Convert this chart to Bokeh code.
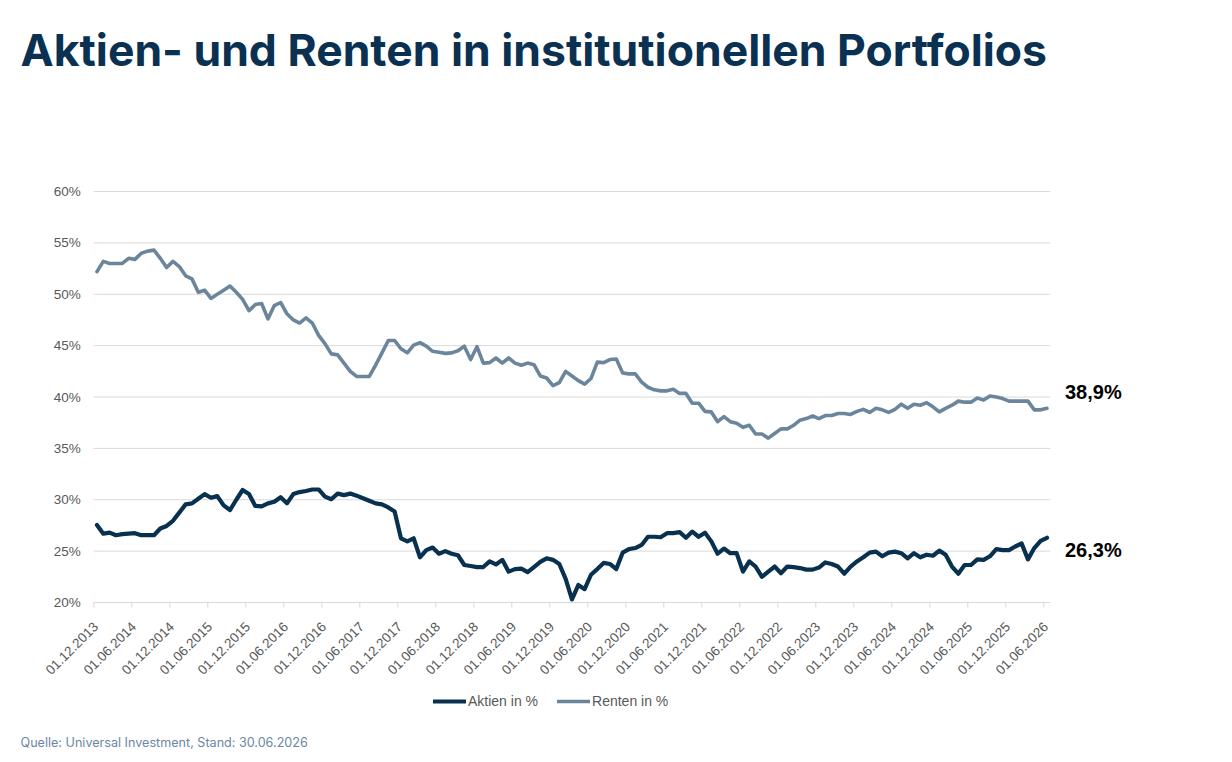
import math
import numpy as np
from bokeh.plotting import figure
from bokeh.models import ColumnDataSource, Label, Legend, LegendItem, Range1d
from bokeh.core.properties import value
from bokeh.embed import file_html
from bokeh.resources import INLINE

title_text = "Aktien- und Renten in institutionellen Portfolios"
source_text = "Quelle: Universal Investment, Stand: 30.06.2026"
series_names = ["Aktien in %", "Renten in %"]

# monthly values, Dec 2013 .. Jun 2026
aktien = [
    27.55, 26.7, 26.8, 26.55, 26.65, 26.7, 26.75, 26.55, 26.55, 26.55, 27.2, 27.45, 27.95, 28.75, 29.55,
    29.65, 30.1, 30.55, 30.2, 30.35, 29.45, 29.0, 30.0, 30.95, 30.55,
    29.4, 29.35, 29.65, 29.8, 30.25, 29.65, 30.55, 30.75, 30.85, 31.0, 31.0, 30.3, 30.05, 30.6, 30.45,
    30.6, 30.4, 30.15, 29.9, 29.65, 29.55, 29.25, 28.85, 26.25, 25.95,
    26.25, 24.4, 25.1, 25.35, 24.75, 25.0, 24.75, 24.6, 23.65, 23.55, 23.45, 23.45, 24.0, 23.7, 24.15,
    23.0, 23.25, 23.3, 22.95, 23.45, 23.95, 24.3, 24.15, 23.75, 22.3,
    20.3, 21.7, 21.3, 22.7, 23.25, 23.85, 23.75, 23.25, 24.85, 25.2, 25.3, 25.6, 26.4, 26.4, 26.35,
    26.75, 26.75, 26.85, 26.3, 26.9, 26.4, 26.8, 25.95, 24.75, 25.25,
    24.8, 24.8, 23.0, 24.0, 23.5, 22.5, 23.0, 23.5, 22.85, 23.5, 23.45, 23.35, 23.2, 23.2, 23.4,
    23.9, 23.75, 23.5, 22.8, 23.5, 24.0, 24.4, 24.85, 24.95, 24.5,
    24.85, 24.95, 24.8, 24.3, 24.8, 24.4, 24.65, 24.55, 25.05, 24.65, 23.5, 22.8, 23.65, 23.65, 24.2,
    24.15, 24.5, 25.2, 25.1, 25.1, 25.45, 25.75, 24.2, 25.3, 26.0, 26.3,
]
renten = [
    52.2, 53.2, 53.0, 53.0, 53.0, 53.5, 53.4, 54.0, 54.2, 54.3, 53.5, 52.6, 53.2, 52.7, 51.8,
    51.5, 50.2, 50.4, 49.6, 50.0, 50.4, 50.8, 50.2, 49.5, 48.4,
    49.0, 49.1, 47.6, 48.9, 49.2, 48.1, 47.5, 47.2, 47.7, 47.2, 46.0, 45.2, 44.2, 44.1, 43.3,
    42.5, 42.0, 42.0, 42.0, 43.1, 44.3, 45.5, 45.5, 44.7, 44.3,
    45.05, 45.3, 44.95, 44.45, 44.35, 44.25, 44.3, 44.5, 44.95, 43.65, 44.9, 43.3, 43.35, 43.8, 43.3,
    43.8, 43.3, 43.1, 43.3, 43.15, 42.05, 41.85, 41.1, 41.4, 42.5,
    42.05, 41.6, 41.25, 41.8, 43.4, 43.35, 43.65, 43.7, 42.35, 42.25, 42.25, 41.45, 40.95, 40.7, 40.6,
    40.6, 40.75, 40.35, 40.35, 39.4, 39.4, 38.6, 38.55, 37.6, 38.1,
    37.6, 37.45, 37.05, 37.25, 36.4, 36.4, 36.0, 36.45, 36.9, 36.9, 37.25, 37.75, 37.9, 38.15, 37.9,
    38.2, 38.2, 38.4, 38.4, 38.3, 38.6, 38.8, 38.5, 38.9, 38.75,
    38.5, 38.8, 39.3, 38.9, 39.3, 39.2, 39.45, 39.05, 38.55, 38.9, 39.2, 39.6, 39.5, 39.5, 39.9,
    39.7, 40.1, 40.0, 39.85, 39.6, 39.6, 39.6, 39.6, 38.75, 38.75, 38.9,
]
tick_labels = [
    "01.12.2013", "01.06.2014", "01.12.2014", "01.06.2015", "01.12.2015", "01.06.2016",
    "01.12.2016", "01.06.2017", "01.12.2017", "01.06.2018", "01.12.2018", "01.06.2019",
    "01.12.2019", "01.06.2020", "01.12.2020", "01.06.2021", "01.12.2021", "01.06.2022",
    "01.12.2022", "01.06.2023", "01.12.2023", "01.06.2024", "01.12.2024", "01.06.2025",
    "01.12.2025", "01.06.2026",
]
y_ticks = [20, 25, 30, 35, 40, 45, 50, 55, 60]
y_tick_labels = ["20%", "25%", "30%", "35%", "40%", "45%", "50%", "55%", "60%"]
months_per_tick = 6

C_AKT = "#08304f"
C_REN = "#6b869c"
C_TITLE = "#0b3152"
C_GRID = "#d9d9d9"
C_TXT = "#595959"
C_SRC = "#6a87a3"

# canvas geometry (pixels)
W, H = 1230, 760
PLOT_LEFT = 93.3          # x of the category axis start
PLOT_BASE = 602.0         # y of the 20 % line
PXM = 38.0 / 6.0          # pixels per month
PXP = 10.274              # pixels per percentage point

n = len(aktien)
x = np.arange(n) + 0.5
src = ColumnDataSource(dict(x=x, aktien=aktien, renten=renten))

y0 = y_ticks[0]
p = figure(width=W, height=H, min_border=0, output_backend="svg", toolbar_location=None,
           x_axis_type=None, y_axis_type=None,
           x_range=Range1d(-PLOT_LEFT / PXM, (W - PLOT_LEFT) / PXM),
           y_range=Range1d(y0 - (H - PLOT_BASE) / PXP, y0 + PLOT_BASE / PXP))
p.outline_line_color = None
p.grid.visible = False
p.background_fill_color = "white"
p.border_fill_color = "white"

# horizontal gridlines (the 20 % line doubles as the category axis line)
p.segment(x0=[0] * len(y_ticks), x1=[n] * len(y_ticks), y0=y_ticks, y1=y_ticks,
          line_color=C_GRID, line_width=1)
# category-axis tick marks every 6 months
tick_pos = [months_per_tick * k for k in range(len(tick_labels))]
p.segment(x0=tick_pos, x1=tick_pos, y0=[y0] * len(tick_pos),
          y1=[y0 - 5 / PXP] * len(tick_pos), line_color=C_GRID, line_width=1)

# y tick labels
p.text(x=[0] * len(y_ticks), y=y_ticks, text=y_tick_labels, x_offset=-13,
       text_align="right", text_baseline="middle", text_font=value("Liberation Sans"),
       text_font_size="13.5px", text_color=C_TXT)
# x tick labels, rotated 45 degrees, ending below each tick
p.text(x=tick_pos, y=[y0] * len(tick_pos), text=tick_labels, angle=math.pi / 4,
       x_offset=2, y_offset=22, text_align="right", text_baseline="middle",
       text_font=value("Liberation Sans"), text_font_size="13.5px", text_color=C_TXT)

r_akt = p.line("x", "aktien", source=src, line_color=C_AKT, line_width=4.2,
               line_join="round", line_cap="round")
r_ren = p.line("x", "renten", source=src, line_color=C_REN, line_width=3.6,
               line_join="round", line_cap="round")

def fmt(v):
    return f"{v:.1f}%".replace(".", ",")

p.add_layout(Label(x=x[-1], y=renten[-1], x_offset=18, y_offset=16, text=fmt(renten[-1]),
                   text_font="Liberation Sans", text_font_style="bold", text_font_size="20px",
                   text_color="black", text_baseline="middle", text_align="left"))
p.add_layout(Label(x=x[-1], y=aktien[-1], x_offset=18, y_offset=-12.5, text=fmt(aktien[-1]),
                   text_font="Liberation Sans", text_font_style="bold", text_font_size="20px",
                   text_color="black", text_baseline="middle", text_align="left"))

# title and source
p.add_layout(Label(x=20, y=H - 49, x_units="screen", y_units="screen", text=title_text,
                   text_font="Inter", text_font_style="bold", text_font_size="44.5px",
                   text_color=C_TITLE, text_baseline="middle", text_align="left"))
p.add_layout(Label(x=20, y=H - 742, x_units="screen", y_units="screen", text=source_text,
                   text_font="Inter", text_font_size="12.6px",
                   text_color=C_SRC, text_baseline="middle", text_align="left"))

legend = Legend(items=[LegendItem(label=series_names[0], renderers=[r_akt]),
                       LegendItem(label=series_names[1], renderers=[r_ren])],
                orientation="horizontal", location=(433, H - 709),
                glyph_width=33, glyph_height=14, label_height=14, label_standoff=2,
                spacing=19, padding=0, margin=0,
                border_line_alpha=0, background_fill_alpha=0,
                label_text_font="Liberation Sans", label_text_font_size="14px",
                label_text_color=C_TXT)
p.add_layout(legend)

open("out.html", "w").write(file_html(p, INLINE))
